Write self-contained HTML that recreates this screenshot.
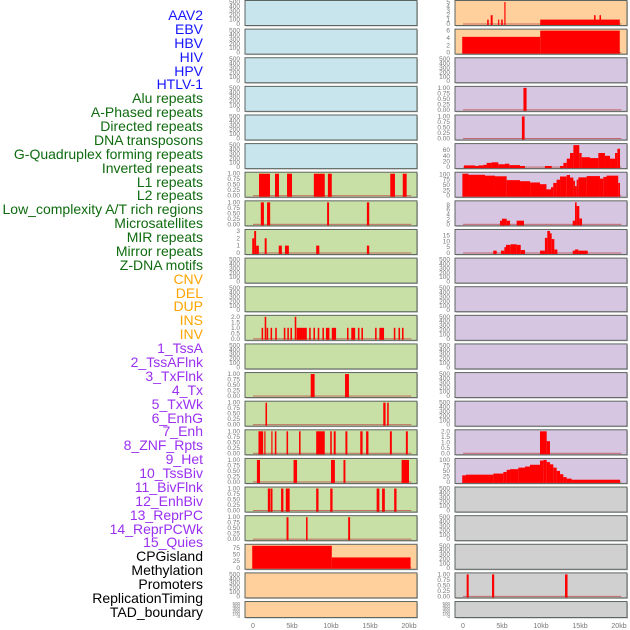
<!DOCTYPE html>
<html><head><meta charset="utf-8">
<style>
html,body{margin:0;padding:0;background:#fff;}
#wrap{position:relative;width:630px;height:630px;overflow:hidden;font-family:"Liberation Sans",sans-serif;}
.lbl{position:absolute;right:427px;font-size:14px;line-height:14px;white-space:nowrap;}
svg{position:absolute;left:0;top:0;}
</style></head>
<body>
<div id="wrap">
<div id="labels"></div>
<svg id="chart" width="630" height="630"></svg>
</div>
<script>
// ---- label data ----
const trackLabels = ["AAV2","EBV","HBV","HIV","HPV","HTLV-1","Alu repeats","A-Phased repeats","Directed repeats","DNA transposons","G-Quadruplex forming repeats","Inverted repeats","L1 repeats","L2 repeats","Low_complexity A/T rich regions","Microsatellites","MIR repeats","Mirror repeats","Z-DNA motifs","CNV","DEL","DUP","INS","INV","1_TssA","2_TssAFlnk","3_TxFlnk","4_Tx","5_TxWk","6_EnhG","7_Enh","8_ZNF_Rpts","9_Het","10_TssBiv","11_BivFlnk","12_EnhBiv","13_ReprPC","14_ReprPCWk","15_Quies","CPGisland","Methylation","Promoters","ReplicationTiming","TAD_boundary"];
const labelGroups = ["v","v","v","v","v","v","r","r","r","r","r","r","r","r","r","r","r","r","r","s","s","s","s","s","c","c","c","c","c","c","c","c","c","c","c","c","c","c","c","k","k","k","k","k"];
const groupColors = {v:"#1515ff",r:"#0f6b0f",s:"#ffa500",c:"#9a30f0",k:"#000"};

// ---- x-axis ----
const xTickValues = [0,5,10,15,20];
const xTickLabels = ["0","5kb","10kb","15kb","20kb"];

// ---- tick sets ----
const ticksEmpty = [0,100,200,300,400,500];
const ticksUnit = [0,0.25,0.5,0.75,1];
const ticksLowCx = [0,1,2,3];
const ticksTwo = [0,0.5,1,1.5,2];
const ticksMeth = [0,25,50,75];
const ticksAAV = [0,1,2,3,4,5];
const ticksEBV = [0,2,4,6];
const ticksGQ = [0,20,40,60];
const ticksPct = [0,25,50,75,100];
const ticksEight = [0,2,4,6,8];
const ticksFifteen = [0,5,10,15];

// ---- series: [startKb, endKb, value] ----
const l1Series = [[0.77,2.18,1],[2.82,3.33,1],[4.36,5.0,1],[7.8,9.2,1],[9.6,10.1,1],[17.6,18.2,1],[19.2,19.7,1]];
const l2Series = [[1.0,1.4,1],[1.8,2.2,1],[9.5,9.75,1],[14.6,14.9,1]];
const lowCxSeries = [[-0.1,0.15,2],[0.15,0.4,3],[0.4,0.75,1],[1.5,1.75,2],[3.3,3.7,1],[4.1,4.6,1],[8.1,8.5,1],[14.6,14.9,1]];
const mirrorSeries = [[1.1,1.3,1],[1.5,1.7,2],[1.75,1.95,1],[2.25,2.45,1],[2.85,3.05,1],[3.95,4.15,1],[4.4,4.6,1],[4.8,5.0,1],[5.35,5.55,2],[5.6,6.9,1],[7.2,7.4,1],[7.75,7.95,1],[8.3,8.5,1],[8.9,9.1,1],[9.35,9.8,1],[10.1,10.65,1],[12.05,12.25,1],[12.6,13.1,1],[13.45,13.65,1],[13.9,14.1,1],[15.65,15.85,1],[16.2,16.8,1],[18.05,18.25,1],[18.65,18.85,1],[19.1,19.3,1]];
const cnvSeries = [[7.4,7.9,1],[11.8,12.3,1]];
const delSeries = [[1.6,1.8,1],[16.7,17.0,1],[17.2,17.4,1]];
const dupSeries = [[0.7,1.3,1],[1.45,1.6,1],[2.35,2.5,1],[2.8,3.0,1],[4.3,4.5,1],[5.9,6.1,1],[8.1,9.2,1],[9.9,10.1,1],[10.35,10.6,1],[11.85,12.1,1],[13.75,14.05,1],[14.5,14.8,1],[17.55,17.8,1],[19.6,19.85,1]];
const insSeries = [[0.5,0.9,1],[5.2,5.65,1],[10.0,10.5,1],[11.6,11.85,1],[19.05,20.0,1]];
const invSeries = [[1.9,2.2,1],[2.25,2.5,1],[3.6,3.9,1],[4.2,4.7,1],[8.1,8.4,1],[9.9,10.2,1],[15.85,16.2,1],[16.55,16.9,1],[18.1,18.4,1]];
const tssASeries = [[4.3,4.55,1],[6.8,7.0,1],[12.2,12.45,1]];
const methSeries = [[-0.1,10.1,83],[10.1,20.2,39]];
const aavSeries = [[3.1,3.3,1],[3.55,3.8,2],[4.5,4.65,1],[4.9,5.1,1],[5.3,5.45,5],[9.9,20.1,1],[16.8,17.0,2],[17.5,17.7,2]];
const ebvSeries = [[-0.1,9.9,4.3],[9.9,20.1,6]];
const aluSeries = [[7.75,8.15,1]];
const aphSeries = [[7.55,7.9,1]];
const gqSeries = [[0.13,1.54,6],[1.54,1.97,4],[1.97,2.6,6],[2.6,3.03,8],[3.03,3.67,15],[3.67,4.53,17],[4.53,5.38,10],[5.38,5.94,12],[5.94,7.31,7],[7.31,7.95,4],[10.5,11.37,4],[12.44,12.87,4],[12.87,13.3,15],[13.3,13.72,30],[13.72,14.15,50],[14.15,14.91,78],[14.91,15.21,50],[15.21,16.28,35],[16.28,17.35,32],[17.35,18.2,50],[18.2,18.85,40],[18.85,19.49,30],[19.49,19.79,50],[19.79,20.13,65]];
const invRepSeries = [[-0.08,0.7,103],[0.7,2.82,98],[2.82,4.1,94],[4.1,5.6,91],[5.6,7.31,73],[7.31,8.6,68],[8.6,9.87,62],[9.87,10.7,54],[10.7,11.28,30],[11.28,11.57,40],[11.57,12.0,60],[12.0,12.44,75],[12.44,13.3,90],[13.3,13.72,97],[13.72,14.15,85],[14.15,14.36,70],[14.36,14.57,45],[14.57,14.79,75],[14.79,15.85,86],[15.85,17.56,92],[17.56,17.99,80],[17.99,18.4,88],[18.4,19.9,94],[19.9,20.13,60]];
const l1RightSeries = [[4.74,5.26,1.5],[5.0,5.6,2.3],[5.6,6.03,1.5],[6.88,7.82,1.5],[14.06,14.36,1.5],[14.36,14.57,9],[14.57,14.91,7.5],[14.91,15.26,2.4]];
const l2RightSeries = [[3.88,4.32,2],[4.87,5.3,2],[5.3,5.51,5],[5.51,6.11,7],[6.11,6.88,7.5],[6.88,7.4,7],[7.4,7.95,2.5],[9.87,10.5,2],[10.5,10.81,13],[10.81,11.15,19],[11.15,11.37,17],[11.37,11.71,12],[11.71,12.1,3],[14.06,14.36,2],[14.36,14.79,3],[14.79,15.99,2]];
const enhSeries = [[9.87,10.73,2],[10.73,11.15,1.1]];
const znfSeries = [[-0.17,0.38,30],[0.38,3.89,33],[3.89,5.17,38],[5.17,5.6,45],[5.6,6.03,55],[6.03,7.09,58],[7.09,7.95,65],[7.95,8.59,70],[8.59,9.87,78],[9.87,10.3,97],[10.3,10.73,100],[10.73,11.15,90],[11.15,11.58,80],[11.58,12.01,65],[12.01,12.44,50],[12.44,12.86,35],[12.86,13.29,22],[13.29,13.93,15],[13.93,20.13,10]];
const promSeries = [[0.47,0.73,1],[3.72,4.0,1],[13.08,13.4,1]];

const BLUE="#c8e4ec",GREEN="#c8e0a5",ORANGE="#ffd09c",PURPLE="#d6c6e2",GRAY="#d0d0d0";
const UNIT_FMT = v=>v.toFixed(2), ONE_FMT=v=>v.toFixed(1), INT_FMT=v=>String(v);
// panels: [column, row, name, bg, ticks, ymax, fmt, series]
const panels = [
 [0,0,"aav2-left",BLUE,ticksEmpty,500,INT_FMT,null],
 [0,1,"ebv-left",BLUE,ticksEmpty,500,INT_FMT,null],
 [0,2,"hbv-left",BLUE,ticksEmpty,500,INT_FMT,null],
 [0,3,"hiv-left",BLUE,ticksEmpty,500,INT_FMT,null],
 [0,4,"hpv-left",BLUE,ticksEmpty,500,INT_FMT,null],
 [0,5,"htlv-left",BLUE,ticksEmpty,500,INT_FMT,null],
 [0,6,"l1-left",GREEN,ticksUnit,1,UNIT_FMT,l1Series],
 [0,7,"l2-left",GREEN,ticksUnit,1,UNIT_FMT,l2Series],
 [0,8,"lowcx-left",GREEN,ticksLowCx,3,INT_FMT,lowCxSeries],
 [0,9,"micro-left",GREEN,ticksEmpty,500,INT_FMT,null],
 [0,10,"mir-left",GREEN,ticksEmpty,500,INT_FMT,null],
 [0,11,"mirror-left",GREEN,ticksTwo,2,ONE_FMT,mirrorSeries],
 [0,12,"zdna-left",GREEN,ticksEmpty,500,INT_FMT,null],
 [0,13,"cnv-left",GREEN,ticksUnit,1,UNIT_FMT,cnvSeries],
 [0,14,"del-left",GREEN,ticksUnit,1,UNIT_FMT,delSeries],
 [0,15,"dup-left",GREEN,ticksUnit,1,UNIT_FMT,dupSeries],
 [0,16,"ins-left",GREEN,ticksUnit,1,UNIT_FMT,insSeries],
 [0,17,"inv-left",GREEN,ticksUnit,1,UNIT_FMT,invSeries],
 [0,18,"tssa-left",GREEN,ticksUnit,1,UNIT_FMT,tssASeries],
 [0,19,"methylation-left",ORANGE,ticksMeth,83,INT_FMT,methSeries],
 [0,20,"promoters-left",ORANGE,ticksEmpty,500,INT_FMT,null],
 [0,21,"tad-left",ORANGE,ticksEmpty,500,INT_FMT,null],
 [1,0,"aav2-right",ORANGE,ticksAAV,5,INT_FMT,aavSeries],
 [1,1,"ebv-right",ORANGE,ticksEBV,6,INT_FMT,ebvSeries],
 [1,2,"hbv-right",PURPLE,ticksEmpty,500,INT_FMT,null],
 [1,3,"alu-right",PURPLE,ticksUnit,1,UNIT_FMT,aluSeries],
 [1,4,"aphased-right",PURPLE,ticksUnit,1,UNIT_FMT,aphSeries],
 [1,5,"gquad-right",PURPLE,ticksGQ,78,INT_FMT,gqSeries],
 [1,6,"inverted-right",PURPLE,ticksPct,103,INT_FMT,invRepSeries],
 [1,7,"l1-right",PURPLE,ticksEight,9,INT_FMT,l1RightSeries],
 [1,8,"l2-right",PURPLE,ticksFifteen,19,INT_FMT,l2RightSeries],
 [1,9,"micro-right",PURPLE,ticksEmpty,500,INT_FMT,null],
 [1,10,"mir-right",PURPLE,ticksEmpty,500,INT_FMT,null],
 [1,11,"mirror-right",PURPLE,ticksEmpty,500,INT_FMT,null],
 [1,12,"zdna-right",PURPLE,ticksEmpty,500,INT_FMT,null],
 [1,13,"cnv-right",PURPLE,ticksEmpty,500,INT_FMT,null],
 [1,14,"del-right",PURPLE,ticksEmpty,500,INT_FMT,null],
 [1,15,"enh-right",PURPLE,ticksTwo,2,ONE_FMT,enhSeries],
 [1,16,"znf-right",PURPLE,ticksPct,100,INT_FMT,znfSeries],
 [1,17,"het-right",GRAY,ticksEmpty,500,INT_FMT,null],
 [1,18,"tssbiv-right",GRAY,ticksEmpty,500,INT_FMT,null],
 [1,19,"bivflnk-right",GRAY,ticksEmpty,500,INT_FMT,null],
 [1,20,"promoters-right",GRAY,ticksUnit,1,UNIT_FMT,promSeries],
 [1,21,"tad-right",GRAY,ticksEmpty,500,INT_FMT,null]
];

const NS="http://www.w3.org/2000/svg";
const svg=document.getElementById("chart");
function mk(tag,attrs,parent){const e=document.createElementNS(NS,tag);for(const k in attrs)e.setAttribute(k,attrs[k]);(parent||svg).appendChild(e);return e;}

// labels
const labDiv=document.getElementById("labels");
trackLabels.forEach((t,i)=>{
  const d=document.createElement("div");
  d.className="lbl";
  d.textContent=t;
  d.style.top=(8+i*13.88)+"px";
  d.style.color=groupColors[labelGroups[i]];
  
  
  labDiv.appendChild(d);
});

const colX=[245,455], panelW=172, pitch=28.62;
function xScale(col,kb){return colX[col]+8+kb*7.8;}

panels.forEach(p=>{
  const [col,row,name,bg,ticks,ymax,fmt,series]=p;
  const top=0.5+row*pitch;
  const h=row===21?16:25;
  const bottom=top+h;
  const yScale=v=>bottom-1.5-(v/ymax)*(h-3);
  const g=mk("g",{});
  
  
  mk("rect",{x:colX[col]+1,y:top+1,width:panelW,height:h,fill:"#9a9a9a",opacity:0.6},g);
  mk("rect",{x:colX[col],y:top,width:panelW,height:h,fill:bg,stroke:"#5d6560","stroke-width":1},g);
  ticks.forEach(t=>{
    const tx=mk("text",{x:colX[col]-5,y:yScale(t)+2,"font-size":(row===21?4.5:6.5),fill:"#777","text-anchor":"end","font-family":"Liberation Sans, sans-serif"},g);
    tx.textContent=fmt(t);
    
    
  });
  if(series){
    mk("rect",{x:xScale(col,0),y:bottom-2,width:xScale(col,20.3)-xScale(col,0),height:1,fill:"#c0504d",opacity:0.8},g);
    series.forEach(s=>{
      const x0=xScale(col,Math.max(s[0],-0.1)),x1=xScale(col,s[1]);
      const y0=yScale(s[2]);
      const r=mk("rect",{x:x0,y:Math.max(y0,top+0.5),width:Math.max(x1-x0,1),height:bottom-0.5-Math.max(y0,top+0.5),fill:"#ff0000"},g);
      
      
    });
  }
});

// x axes
[0,1].forEach(col=>{
  xTickValues.forEach((v,i)=>{
    const t=mk("text",{x:xScale(col,v),y:628,"font-size":7,fill:"#777","text-anchor":"middle","font-family":"Liberation Sans, sans-serif"});
    t.textContent=xTickLabels[i];
    
    
  });
});
</script>
</body></html>
